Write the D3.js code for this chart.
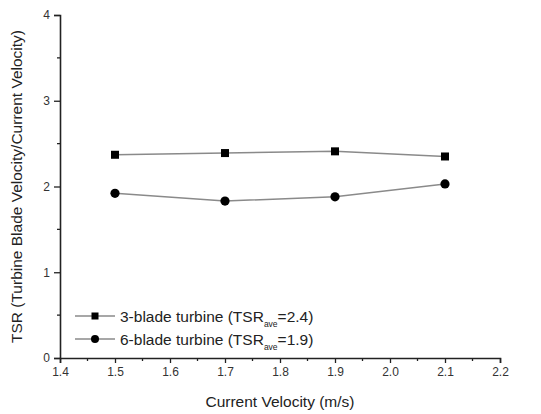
<!DOCTYPE html>
<html>
<head>
<meta charset="utf-8">
<script src="https://cdn.jsdelivr.net/npm/d3@7"></script>
<style>
  body { margin: 0; background: #fff; }
  svg { font-family: "Liberation Sans", Arial, sans-serif; }
</style>
</head>
<body>
<svg id="chart" width="541" height="414"></svg>
<script>
const velocity = [1.5, 1.7, 1.9, 2.1];
const tsr3 = [2.37, 2.39, 2.41, 2.35];
const tsr6 = [1.92, 1.83, 1.88, 2.03];
const xTicks = [1.4, 1.5, 1.6, 1.7, 1.8, 1.9, 2.0, 2.1, 2.2];
const yTicks = [0, 1, 2, 3, 4];
const legendLabels = [
  { name: "3-blade turbine (TSR", avg: "=2.4)" },
  { name: "6-blade turbine (TSR", avg: "=1.9)" }
];

const svg = d3.select('#chart');
const margin = { top: 15, right: 41, bottom: 56, left: 60 };
const width = 541, height = 414;

const x = d3.scaleLinear().domain([1.4, 2.2]).range([margin.left, width - margin.right]);
const y = d3.scaleLinear().domain([0, 4]).range([height - margin.bottom, margin.top]);

// minor ticks
const xMinor = d3.range(1.45, 2.2, 0.1);
const yMinor = d3.range(0.5, 4, 1);

svg.append('g')
  .attr('transform', 'translate(0,' + y(0) + ')')
  .selectAll('line').data(xMinor).enter().append('line')
  .attr('x1', d => x(d)).attr('x2', d => x(d))
  .attr('y1', 0).attr('y2', 3)
  .attr('stroke', '#222').attr('stroke-width', 1.3);

svg.append('g')
  .attr('transform', 'translate(' + x(1.4) + ',0)')
  .selectAll('line').data(yMinor).enter().append('line')
  .attr('y1', d => y(d)).attr('y2', d => y(d))
  .attr('x1', 0).attr('x2', -3)
  .attr('stroke', '#222').attr('stroke-width', 1.3);

const xAxis = svg.append('g')
  .attr('transform', 'translate(0,' + y(0) + ')')
  .call(d3.axisBottom(x).tickValues(xTicks).tickFormat(d3.format('.1f')).tickSizeOuter(0).tickSize(5).tickPadding(4));

const yAxis = svg.append('g')
  .attr('transform', 'translate(' + x(1.4) + ',0)')
  .call(d3.axisLeft(y).tickValues(yTicks).tickFormat(d3.format('d')).tickSizeOuter(0).tickSize(6).tickPadding(4));

[xAxis, yAxis].forEach(g => {
  g.select('.domain').attr('stroke', '#222').attr('stroke-width', 1.6);
  g.selectAll('.tick line').attr('stroke', '#222').attr('stroke-width', 1.3);
  g.selectAll('.tick text').attr('fill', '#333').style('font-size', '12px');
});

svg.append('text')
  .attr('x', (x(1.4) + x(2.2)) / 2)
  .attr('y', 407)
  .attr('text-anchor', 'middle')
  .attr('fill', '#222')
  .style('font-size', '15.5px')
  .text('Current Velocity (m/s)');

svg.append('text')
  .attr('transform', 'translate(22,' + y(2) + ') rotate(-90)')
  .attr('text-anchor', 'middle')
  .attr('fill', '#222')
  .style('font-size', '15.5px')
  .text('TSR (Turbine Blade Velocity/Current Velocity)');

const line = d3.line().x((d, i) => x(velocity[i])).y(d => y(d));

svg.append('path').datum(tsr3).attr('d', line)
  .attr('fill', 'none').attr('stroke', '#8a8a8a').attr('stroke-width', 1.5);
svg.append('path').datum(tsr6).attr('d', line)
  .attr('fill', 'none').attr('stroke', '#8a8a8a').attr('stroke-width', 1.5);

svg.selectAll('rect.m3').data(tsr3).enter().append('rect')
  .attr('class', 'm3')
  .attr('x', (d, i) => x(velocity[i]) - 4)
  .attr('y', d => y(d) - 4)
  .attr('width', 8).attr('height', 8)
  .attr('fill', '#000');

svg.selectAll('circle.m6').data(tsr6).enter().append('circle')
  .attr('class', 'm6')
  .attr('cx', (d, i) => x(velocity[i]))
  .attr('cy', d => y(d))
  .attr('r', 4.6)
  .attr('fill', '#000');

// legend
const legend = svg.append('g');
legendLabels.forEach((item, i) => {
  const ly = 316 + i * 23;
  legend.append('line')
    .attr('x1', 75).attr('x2', 115).attr('y1', ly).attr('y2', ly)
    .attr('stroke', '#8a8a8a').attr('stroke-width', 1.5);
  if (i === 0) {
    legend.append('rect').attr('x', 91.5).attr('y', ly - 3.5).attr('width', 7).attr('height', 7).attr('fill', '#000');
  } else {
    legend.append('circle').attr('cx', 95).attr('cy', ly).attr('r', 4).attr('fill', '#000');
  }
  const t = legend.append('text')
    .attr('x', 120).attr('y', ly + 5.5)
    .attr('fill', '#222')
    .style('font-size', '15.5px');
  t.append('tspan').text(item.name);
  t.append('tspan').attr('dy', 5).style('font-size', '8.5px').text('ave');
  t.append('tspan').attr('dy', -5).text(item.avg);
});
</script>
</body>
</html>
